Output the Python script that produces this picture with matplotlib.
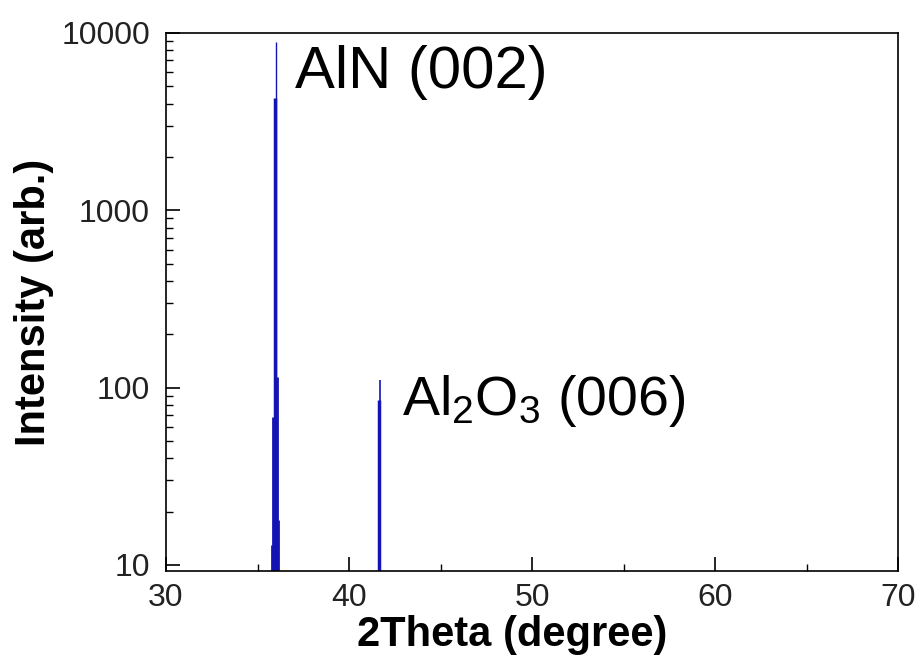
import matplotlib
matplotlib.use("Agg")
import matplotlib.pyplot as plt
from matplotlib.ticker import LogLocator, NullFormatter, FixedLocator

plt.rcParams['font.family'] = ['Liberation Sans', 'DejaVu Sans']
plt.rcParams['mathtext.fontset'] = 'custom'
plt.rcParams['mathtext.rm'] = 'Liberation Sans'
plt.rcParams['mathtext.it'] = 'Liberation Sans:italic'
plt.rcParams['mathtext.bf'] = 'Liberation Sans:bold'

# peak lines (2Theta, intensity)
aln_x = [35.79, 35.87, 35.97, 36.01, 36.04, 36.14]
aln_y = [13, 68, 4300, 8900, 115, 18]
aln_w = [2.0, 2.0, 2.5, 1.0, 2.0, 2.0]
al2o3_x = [41.66, 41.72]
al2o3_y = [85, 110]
al2o3_w = [2.5, 1.2]

baseline = 1.0
xticks = [30, 40, 50, 60, 70]
yticks = [10, 100, 1000, 10000]

fig = plt.figure(figsize=(9.22, 6.57), dpi=100)
ax = fig.add_axes([166/922, 1-571/657, (898-166)/922, (571-33)/657])

for x, y, w in zip(aln_x + al2o3_x, aln_y + al2o3_y, aln_w + al2o3_w):
    ax.vlines(x, baseline, y, color='#1414b4', linewidth=w)

ax.set_yscale('log')
ax.set_xlim(30, 70)
ax.set_ylim(9.25, 10000)
ax.xaxis.set_major_locator(FixedLocator(xticks))
ax.xaxis.set_minor_locator(FixedLocator([35, 45, 55, 65]))
ax.yaxis.set_major_locator(FixedLocator(yticks))
ax.yaxis.set_minor_locator(LogLocator(base=10, subs=range(2, 10)))
ax.yaxis.set_minor_formatter(NullFormatter())
ax.set_yticklabels([str(v) for v in yticks])
ax.set_xticklabels([str(v) for v in xticks])
ax.tick_params(which='both', direction='in', top=False, right=False, labelsize=23,
               labelcolor='#222222')
ax.tick_params(which='major', length=10, width=1.2)
ax.tick_params(which='minor', length=5, width=1.0)
ax.tick_params(axis='x', pad=9)
ax.tick_params(axis='y', pad=11.5)
for s in ax.spines.values():
    s.set_linewidth(1.2)

ax.set_xlabel('2Theta (degree)', fontsize=30, fontweight='bold')
ax.xaxis.set_label_coords((512 - 166) / (898 - 166), -(646 - 571) / (571 - 33))
ax.xaxis.label.set_va('baseline')
ax.set_ylabel('Intensity (arb.)', fontsize=30, fontweight='bold', labelpad=5)

ax.text(37.05, 6000, 'AlN (002)', fontsize=43, va='center', ha='left')
ax.text(42.9, 84, r'Al$_2$O$_3$ (006)', fontsize=40, va='center', ha='left')

fig.savefig('out.png', dpi=100)
